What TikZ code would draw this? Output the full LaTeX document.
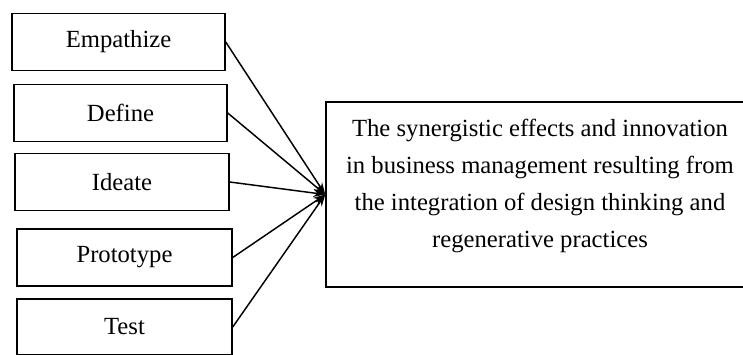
\documentclass[tikz,border=0pt]{standalone}
\usepackage{fontspec}
\setmainfont{Liberation Serif}
\usetikzlibrary{arrows.meta}

\begin{document}
\begin{tikzpicture}[x=0.75pt,y=0.75pt,yscale=-1,
  stagebox/.style={draw,line width=1.1pt,minimum width=213*0.75pt,minimum height=57*0.75pt,inner sep=0pt,
    font=\fontsize{18.5}{22}\selectfont},
  outcomebox/.style={draw,line width=1.1pt,minimum width=428*0.75pt,minimum height=185*0.75pt,inner sep=0pt,
    align=center,font=\fontsize{18.5}{27.8}\selectfont},
  linkarrow/.style={line width=1.1pt,-{Stealth[length=9pt,width=6pt]}}]
\useasboundingbox (0,0) rectangle (743,354);

% stages
\node [stagebox] (empathize) at (118.5,42) {Empathize};
\node [stagebox] (define) at (120.5,113) {Define};
\node [stagebox,minimum width=214*0.75pt] (ideate) at (122,182) {Ideate};
\node [stagebox,minimum width=215*0.75pt] (prototype) at (124.5,257.5) {Prototype};
\node [stagebox,minimum width=215*0.75pt,minimum height=56*0.75pt] (test) at (124.5,327) {Test};

% outcome
\node [outcomebox] (outcome) at (540,194.5) {The synergistic effects and innovation\\in business management resulting from\\the integration of design thinking and\\regenerative practices\\[-11.3pt]};

% links
\draw [linkarrow] (empathize.east) -- (outcome.west);
\draw [linkarrow] (define.east) -- (outcome.west);
\draw [linkarrow] (ideate.east) -- (outcome.west);
\draw [linkarrow] (prototype.east) -- (outcome.west);
\draw [linkarrow] (test.east) -- (outcome.west);

\end{tikzpicture}
\end{document}
